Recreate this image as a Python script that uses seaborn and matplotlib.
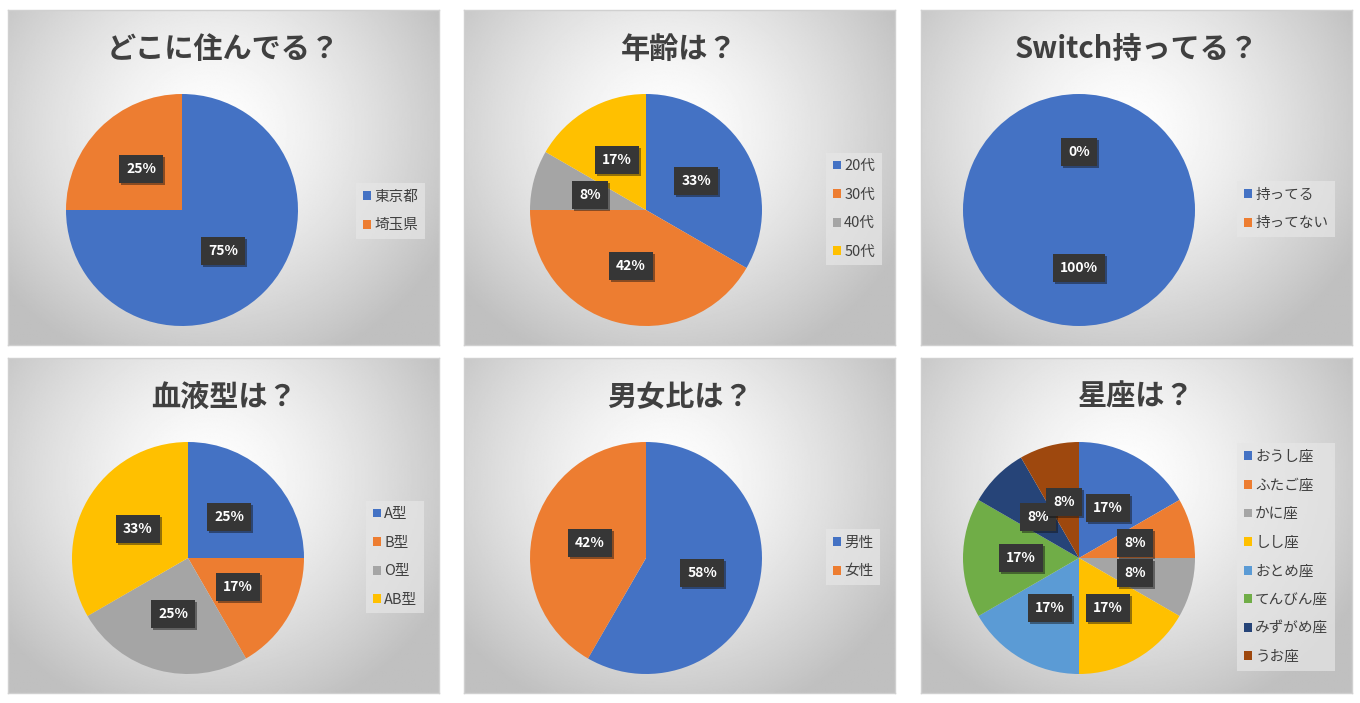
import numpy as np
import seaborn as sns
import matplotlib.pyplot as plt
from matplotlib import patheffects

# データ（12人のアンケート）
titles = ['どこに住んでる？', '年齢は？', 'Switch持ってる？', '血液型は？', '男女比は？', '星座は？']

live_labels = ['東京都', '埼玉県']
live_counts = [9, 3]

age_labels = ['20代', '30代', '40代', '50代']
age_counts = [4, 5, 1, 2]

switch_labels = ['持ってる', '持ってない']
switch_counts = [12, 0]

blood_labels = ['A型', 'B型', 'O型', 'AB型']
blood_counts = [3, 2, 3, 4]

sex_labels = ['男性', '女性']
sex_counts = [7, 5]

star_labels = ['おうし座', 'ふたご座', 'かに座', 'しし座', 'おとめ座', 'てんびん座', 'みずがめ座', 'うお座']
star_counts = [2, 1, 1, 2, 2, 2, 1, 1]

office_colors = ['#4472C4', '#ED7D31', '#A5A5A5', '#FFC000', '#5B9BD5', '#70AD47', '#264478', '#9E480E']

sns.set_theme(style='white')
plt.rcParams['font.family'] = ['Noto Sans CJK JP', 'DejaVu Sans']

W, H = 1360, 703
fig = plt.figure(figsize=(W / 100, H / 100), dpi=100)
fig.patch.set_facecolor('white')


def px_rect(x, y, w, h):
    # ピクセル座標 -> figure座標
    return [x / W, 1 - (y + h) / H, w / W, h / H]


def gradient_image():
    yy, xx = np.mgrid[0:1:300j, 0:1:300j]
    r = np.sqrt(((xx - 0.47) / 0.62) ** 2 + ((yy - 0.36) / 0.75) ** 2)
    v = 1.0 - 0.25 * np.clip(r, 0, 1) ** 1.4
    return v


grad = gradient_image()

panels = [
    (live_labels, live_counts, 8, 10, 174, 356, 211),
    (age_labels, age_counts, 464, 10, 182, 826, 209),
    (switch_labels, switch_counts, 921, 10, 158, 1237, 209),
    (blood_labels, blood_counts, 8, 358, 180, 366, 557),
    (sex_labels, sex_counts, 464, 358, 182, 826, 557),
    (star_labels, star_counts, 921, 358, 158, 1237, 557),
]

PW, PH = 431, 335
R = 116

for i, (labels, counts, x0, y0, cx, lx, ly) in enumerate(panels):
    # 背景（放射グラデーション）
    bg = fig.add_axes(px_rect(x0, y0, PW, PH))
    bg.imshow(grad, cmap='gray', vmin=0, vmax=1, extent=[0, 1, 0, 1],
              aspect='auto', origin='upper')
    bg.set_xticks([])
    bg.set_yticks([])
    for s in bg.spines.values():
        s.set_color('#d0d0d0')
        s.set_linewidth(1)
    bg.text(0.5, 1 - 39 / PH, titles[i], transform=bg.transAxes, ha='center', va='center',
            fontsize=21, fontweight='bold', color='#404040')

    # 円グラフ
    cy = 200
    ax = fig.add_axes(px_rect(x0 + cx - R, y0 + cy - R, 2 * R, 2 * R))
    colors = sns.color_palette(office_colors[:len(counts)])
    wedges, texts, autotexts = ax.pie(counts, colors=colors, startangle=90, counterclock=False,
                                      autopct='%.0f%%', pctdistance=0.5,
                                      wedgeprops=dict(linewidth=0),
                                      textprops=dict(color='white', fontsize=10, fontweight='bold'))
    for t in autotexts:
        t.set_bbox(dict(boxstyle='square,pad=0.5', facecolor='#363636', edgecolor='none'))
        t.get_bbox_patch().set_path_effects([
            patheffects.SimplePatchShadow(offset=(1.5, -1.5), alpha=0.45),
            patheffects.Normal()])
    ax.set_xlim(-1, 1)
    ax.set_ylim(-1, 1)
    ax.set_aspect('equal')
    ax.axis('off')

    # 凡例
    fig.legend(wedges, labels, loc='center left',
               bbox_to_anchor=(lx / W, 1 - ly / H), bbox_transform=fig.transFigure,
               frameon=True, fancybox=False, facecolor='#e6e6e6', edgecolor='none',
               framealpha=0.7, fontsize=10.5, labelcolor='#404040',
               handlelength=0.55, handleheight=0.55, handletextpad=0.25,
               labelspacing=1.0, borderpad=0.45, borderaxespad=0)

fig.savefig('out.png', dpi=100, facecolor='white')
